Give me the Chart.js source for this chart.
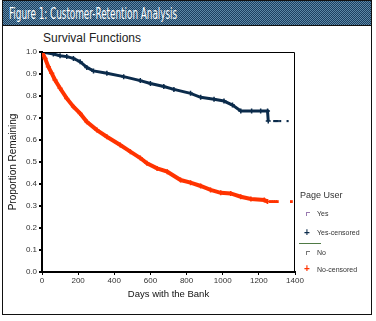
<!DOCTYPE html>
<html>
<head>
<meta charset="utf-8">
<script src="https://cdn.jsdelivr.net/npm/chart.js@4.4.0/dist/chart.umd.min.js"></script>
<style>
  body { margin: 0; background: #fff; }
  #wrap { position: relative; width: 376px; height: 321px; overflow: hidden; font-family: "Liberation Sans", Arial, sans-serif; }
  #panel { position: absolute; left: 2px; top: 0; width: 368px; height: 313px; border: 1.5px solid #111; }
  #banner { position: absolute; left: 0; top: 0; width: 368px; height: 24px; border-bottom: 1.5px solid #111;
    background: repeating-conic-gradient(#1c3f60 0 25%, #5d88a6 0 50%) 0 0/2px 2px; }
  #figTitle { position: absolute; left: 6px; top: 3px; color: #fff; font-family: "Liberation Sans Narrow", "DejaVu Sans Condensed", sans-serif;
    font-size: 16px; white-space: nowrap; transform-origin: left top; }
  #subTitle { position: absolute; left: 43px; top: 31px; font-size: 12px; color: #222; }
  #chart { position: absolute; left: 0; top: 0; }
  .lg { position: absolute; font-size: 7px; color: #333; white-space: nowrap; }
  .mk { position: absolute; width: 3px; height: 3px; border-left: 1px solid; border-top: 1px solid; }
</style>
</head>
<body>
<div id="wrap">
  <div id="panel"><div id="banner"><span id="figTitle">Figure 1: Customer-Retention Analysis</span></div></div>
  <div id="subTitle">Survival Functions</div>
  <canvas id="chart" width="376" height="321"></canvas>
  <div class="lg" style="left:300px;top:190px;font-size:9px;">Page User</div>
  <div class="mk" style="left:306px;top:212px;color:#9a7ab0;"></div>
  <div class="lg" style="left:317px;top:210px;">Yes</div>
  <div class="lg" style="left:304px;top:227px;color:#0b2b4b;font-size:10px;font-weight:bold;">+</div>
  <div class="lg" style="left:317px;top:229px;">Yes-censored</div>
  <div style="position:absolute;left:299px;top:243px;width:22px;height:1px;background:#4f7a45;"></div>
  <div class="mk" style="left:306px;top:251px;color:#777;"></div>
  <div class="lg" style="left:317px;top:249px;">No</div>
  <div class="lg" style="left:304px;top:263px;color:#ff3300;font-size:10px;font-weight:bold;">+</div>
  <div class="lg" style="left:317px;top:266px;">No-censored</div>
</div>
<script>
// fit the condensed banner title to its width in the picture
const figTitle = document.getElementById('figTitle');
figTitle.style.transform = 'scaleX(' + (168 / figTitle.offsetWidth) + ')';

const xTicks = [0, 200, 400, 600, 800, 1000, 1200, 1400];
const yTicks = [0, 0.1, 0.2, 0.3, 0.4, 0.5, 0.6, 0.7, 0.8, 0.9, 1.0];

// page users (Yes)
const yesDays = [0, 63, 100, 137, 174, 211, 248, 285, 359, 452, 544, 600, 674, 730, 822, 878, 952, 1007, 1054, 1100, 1160, 1210, 1248, 1252];
const yesSurv = [1.0, 0.991, 0.983, 0.979, 0.971, 0.956, 0.930, 0.914, 0.903, 0.888, 0.870, 0.857, 0.843, 0.830, 0.812, 0.794, 0.785, 0.777, 0.759, 0.732, 0.732, 0.732, 0.732, 0.686];
const yesCensDays = [1285, 1295, 1305, 1318, 1359];
const yesCensSurv = [0.686, 0.686, 0.686, 0.686, 0.686];

// non page users (No)
const noDays = [0, 17, 35, 54, 72, 100, 137, 174, 211, 248, 304, 359, 433, 489, 544, 581, 637, 693, 767, 822, 878, 933, 989, 1044, 1100, 1156, 1230, 1248];
const noSurv = [1.0, 0.971, 0.933, 0.903, 0.873, 0.835, 0.789, 0.751, 0.721, 0.683, 0.645, 0.615, 0.577, 0.547, 0.518, 0.494, 0.471, 0.456, 0.418, 0.406, 0.391, 0.373, 0.360, 0.357, 0.342, 0.332, 0.327, 0.320];
const noCensDays = [1262, 1272, 1282, 1292, 1302, 1380];
const noCensSurv = [0.320, 0.320, 0.320, 0.320, 0.320, 0.320];

const toXY = (xs, ys) => xs.map((x, i) => ({ x: x, y: ys[i] }));

const frame = {
  id: 'frame',
  afterDraw(chart) {
    const a = chart.chartArea, c = chart.ctx;
    c.save();
    c.strokeStyle = '#000';
    c.lineWidth = 1;
    c.beginPath();
    c.moveTo(a.left, a.top + 0.5);
    c.lineTo(a.right - 0.5, a.top + 0.5);
    c.lineTo(a.right - 0.5, a.bottom);
    c.stroke();
    c.restore();
  }
};

new Chart(document.getElementById('chart').getContext('2d'), {
  type: 'scatter',
  data: {
    datasets: [
      {
        label: 'No',
        data: toXY(noDays, noSurv),
        showLine: true,
        borderColor: '#ff3300',
        borderWidth: 4,
        pointStyle: 'cross',
        pointRadius: 2.5,
        pointBorderWidth: 1.5,
        pointBorderColor: '#ff3300'
      },
      {
        label: 'No-censored',
        data: toXY(noCensDays, noCensSurv),
        showLine: false,
        pointStyle: 'rect',
        pointRadius: 2,
        pointBorderWidth: 0,
        backgroundColor: '#ff3300'
      },
      {
        label: 'Yes',
        data: toXY(yesDays, yesSurv),
        showLine: true,
        borderColor: '#0b2b4b',
        borderWidth: 3,
        pointStyle: 'cross',
        pointRadius: 2.5,
        pointBorderWidth: 1.5,
        pointBorderColor: '#0b2b4b'
      },
      {
        label: 'Yes-censored',
        data: toXY(yesCensDays, yesCensSurv),
        showLine: false,
        pointStyle: 'rect',
        pointRadius: 1.5,
        pointBorderWidth: 0,
        backgroundColor: '#0b2b4b'
      }
    ]
  },
  options: {
    responsive: false,
    animation: false,
    layout: { padding: { left: 4, right: 81, top: 52, bottom: 19 } },
    plugins: { legend: { display: false }, tooltip: { enabled: false } },
    scales: {
      x: {
        type: 'linear',
        min: 0,
        max: 1400,
        afterBuildTicks: (s) => { s.ticks = xTicks.map(v => ({ value: v })); },
        afterFit: (s) => { s.height = 30; },
        ticks: { color: '#333', font: { size: 8 }, padding: 1, maxRotation: 0, callback: (v) => String(v) },
        grid: { display: true, drawOnChartArea: false, tickLength: 3, color: '#000' },
        border: { display: true, color: '#000', width: 2 },
        title: { display: true, text: 'Days with the Bank', color: '#111', font: { size: 9.5 }, padding: { top: 4, bottom: 2 } }
      },
      y: {
        min: 0,
        max: 1,
        afterBuildTicks: (s) => { s.ticks = yTicks.map(v => ({ value: v })); },
        afterFit: (s) => { s.width = 38; },
        ticks: { color: '#333', font: { size: 8 }, padding: 2, callback: (v) => v.toFixed(1) },
        grid: { display: true, drawOnChartArea: false, tickLength: 3, color: '#000', lineWidth: 2 },
        border: { display: true, color: '#000', width: 2 },
        title: { display: true, text: 'Proportion Remaining', color: '#111', font: { size: 10 }, padding: { top: 3, bottom: 2 } }
      }
    }
  },
  plugins: [frame]
});
</script>
</body>
</html>
